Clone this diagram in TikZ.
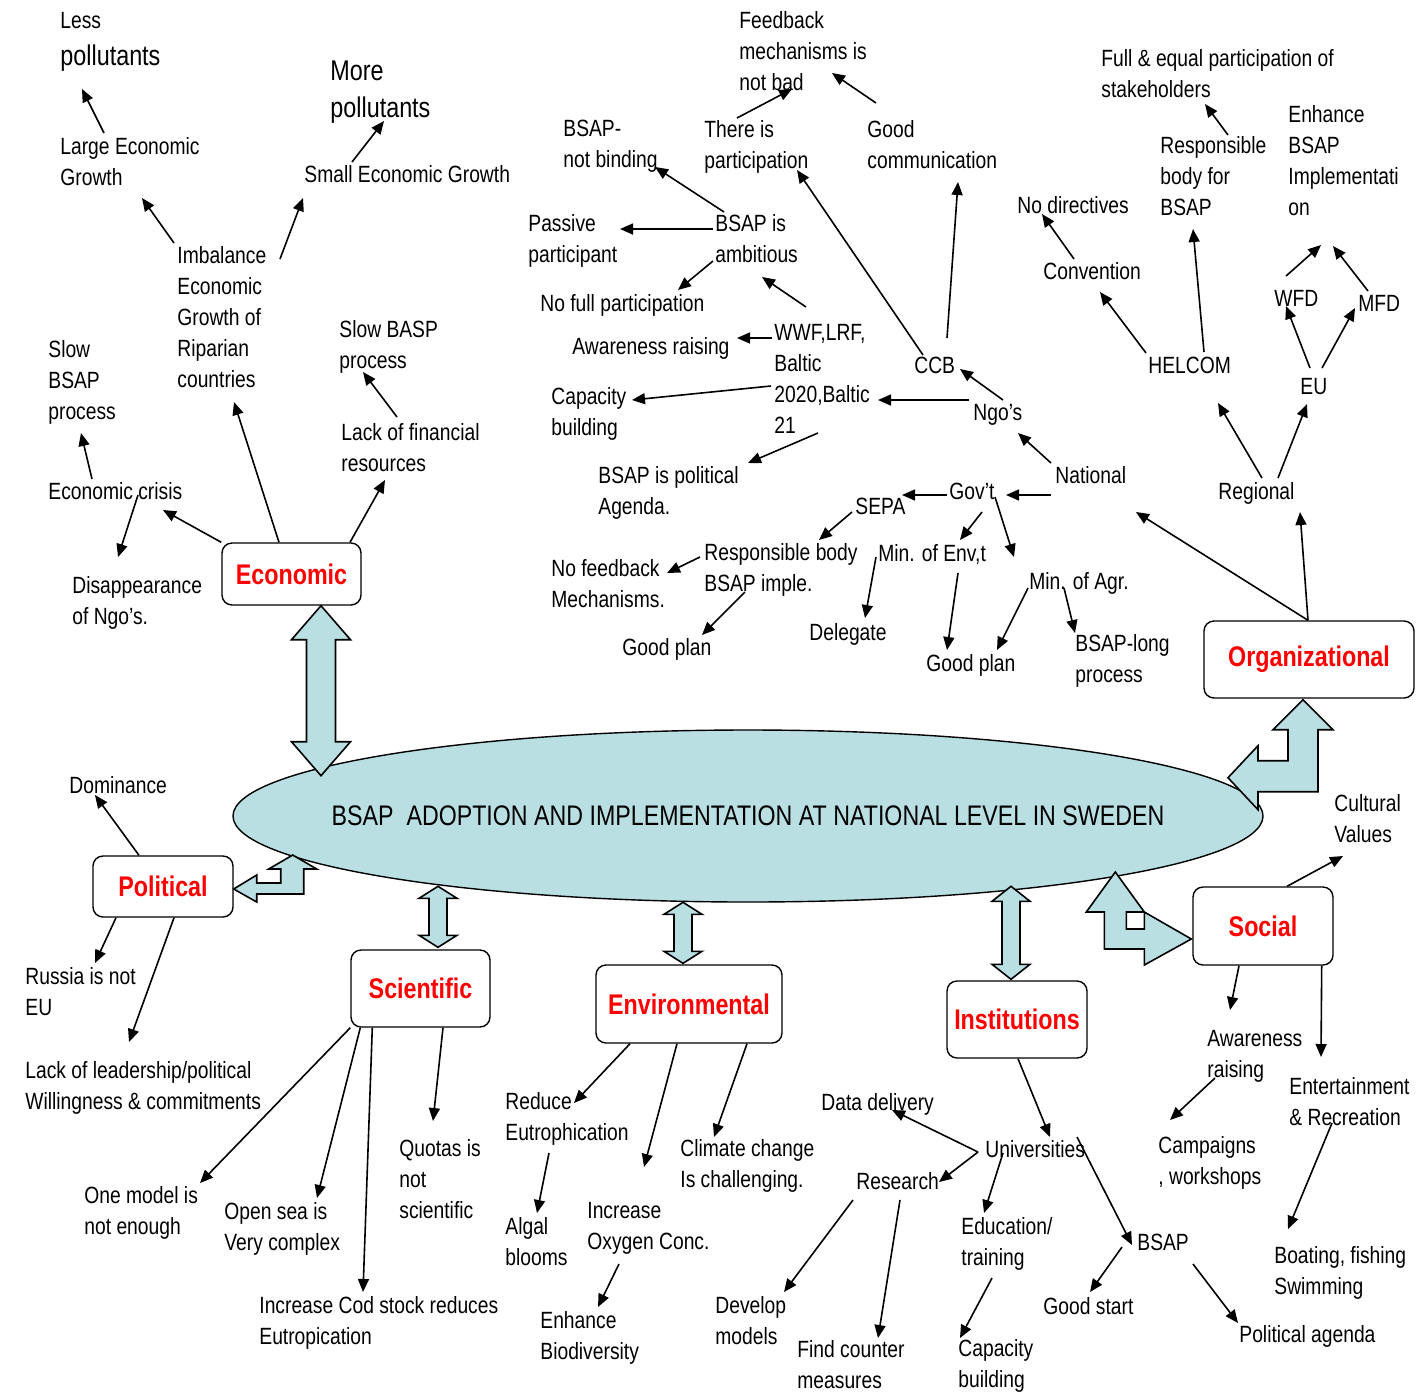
\documentclass[tikz,border=0pt]{standalone}
\usepackage{fontspec}
\setmainfont{Liberation Sans}[FakeStretch=0.82]
\usepackage{tikz}
\usetikzlibrary{positioning,arrows.meta,shapes.geometric}
\definecolor{sea}{RGB}{185,223,227}

\begin{document}
\begin{tikzpicture}[x=0.5pt,y=-0.5pt,font={\fontsize{11.75}{15.5}\selectfont},
  >={Triangle[length=6.5pt,width=5.5pt]},
  lbl/.style={anchor=north west,inner sep=0pt,align=left,execute at begin node=\strut},
  mlbl/.style={lbl,inner ysep=2pt},
  bigtxt/.style={font={\fontsize{14.25}{18.5}\selectfont}},
  catbox/.style={draw,rounded corners=5pt,fill=white,line width=0.7pt,text=red,inner sep=0pt,
    font={\fontsize{14.2}{17}\selectfont\bfseries}},
  arr/.style={->,line width=0.8pt},
  blk/.style={draw,fill=sea,line width=0.8pt}]
  \useasboundingbox (0,0) rectangle (1423,1393);

  % centre
  \node[ellipse,draw,fill=sea,line width=0.7pt,minimum width=515pt,minimum height=86pt,inner sep=0pt]
    (bsap) at (748,816) {};
  \node[font={\fontsize{14.15}{16}\selectfont}] (bsaptext) at (bsap.center)
    {BSAP\ \ ADOPTION AND IMPLEMENTATION AT NATIONAL LEVEL IN SWEDEN};

  % categories
  \node[catbox,minimum width=69.5pt,minimum height=31pt] (econ) at (291.5,574) {Economic};
  \node[catbox,minimum width=105pt,minimum height=38.5pt] (org) at (1309,659.5) {Organizational};
  \node[catbox,minimum width=70pt,minimum height=30.5pt] (pol) at (163,886.5) {Political};
  \node[catbox,minimum width=69.5pt,minimum height=38.5pt] (sci) at (420.5,988.5) {Scientific};
  \node[catbox,minimum width=93pt,minimum height=39pt] (env) at (689,1004) {Environmental};
  \node[catbox,minimum width=70pt,minimum height=38.5pt] (inst) at (1017,1019.5) {Institutions};
  \node[catbox,minimum width=70pt,minimum height=39pt] (soc) at (1263,926) {Social};

  % block arrows to the centre
  \draw[blk] ([shift={(29.5,0)}]econ.south) -- ++(29.5,34) -- ++(-15,0) -- ++(0,102) -- ++(15,0)
    -- ++(-29.5,34) -- ++(-29.5,-34) -- ++(15,0) -- ++(0,-102) -- ++(-15,0) -- cycle;
  \draw[blk] ([shift={(17.5,-2)}]sci.north) -- ++(19,-12) -- ++(-10,0) -- ++(0,-37) -- ++(10,0)
    -- ++(-19,-12) -- ++(-19,12) -- ++(10,0) -- ++(0,37) -- ++(-10,0) -- cycle;
  \draw[blk] ([shift={(-6,-1)}]env.north) -- ++(19,-12) -- ++(-10,0) -- ++(0,-37) -- ++(10,0)
    -- ++(-19,-12) -- ++(-19,12) -- ++(10,0) -- ++(0,37) -- ++(-10,0) -- cycle;
  \draw[blk] ([shift={(-6,-1)}]inst.north) -- ++(19,-15) -- ++(-10,0) -- ++(0,-63) -- ++(10,0)
    -- ++(-19,-15) -- ++(-19,15) -- ++(10,0) -- ++(0,63) -- ++(-10,0) -- cycle;
  \draw[blk] ([shift={(0,2.5)}]pol.east) -- ++(23,-14) -- ++(0,8) -- ++(24,0) -- ++(0,-14) -- ++(-12,0)
    -- ++(24,-14) -- ++(24,14) -- ++(-13,0) -- ++(0,25) -- ++(-47,0) -- ++(0,8) -- cycle;
  \draw[blk] ([shift={(-6,1)}]org.south) -- ++(30,30) -- ++(-15,0) -- ++(0,62) -- ++(-60,0) -- ++(0,18)
    -- ++(-30,-32) -- ++(30,-32) -- ++(0,15) -- ++(30,0) -- ++(0,-31) -- ++(-15,0) -- cycle;
  \draw[blk,even odd rule] ([shift={(-1,13)}]soc.west) -- ++(-47,26) -- ++(0,-16) -- ++(-40,0) -- ++(0,-37)
    -- ++(-18,0) -- ++(29,-40) -- ++(29,40) -- ++(-18,0) -- ++(0,17) -- ++(18,0) -- ++(0,-17) -- cycle;

  % economic
  \node[lbl,inner ysep=2.5pt] (lesspol) at (60,7) {Less\\[3pt]{\fontsize{14.25}{18.5}\selectfont pollutants}};
  \node[mlbl] (largegr) at (60,133) {Large Economic\\Growth};
  \node[lbl,bigtxt,inner ysep=3pt] (morepol) at (330,54) {More\\pollutants};
  \node[lbl] (smallgr) at (304,160) {Small Economic Growth};
  \node[mlbl] (imbal) at (177,242) {Imbalance\\Economic\\Growth of\\Riparian\\countries};
  \node[mlbl] (slowbasp) at (339,316) {Slow BASP\\process};
  \node[mlbl] (lackfin) at (341,419) {Lack of financial\\resources};
  \node[mlbl] (slowbsap) at (48,336) {Slow\\BSAP\\process};
  \node[lbl] (crisis) at (48,477) {Economic crisis};
  \node[mlbl] (disapp) at (72,572) {Disappearance\\of Ngo’s.};
  \draw[arr] ([shift={(44,0)}]largegr.north west) -- ([shift={(22,82)}]lesspol.north west);
  \draw[arr] ([shift={(48,2)}]smallgr.north west) -- ([shift={(54,67)}]morepol.north west);
  \draw[arr] ([shift={(-3,1)}]imbal.north west) -- ([shift={(82,65)}]largegr.north west);
  \draw[arr] ([shift={(103,17)}]imbal.north west) -- ([shift={(-1,38)}]smallgr.north west);
  \draw[arr] ([shift={(-12.5,0)}]econ.north) -- ([shift={(57,160)}]imbal.north west);
  \draw[arr] ([shift={(58.5,0)}]econ.north) -- ([shift={(44,61)}]lackfin.north west);
  \draw[arr] ([shift={(56,-2)}]lackfin.north west) -- ([shift={(24,56)}]slowbasp.north west);
  \draw[arr] (econ.north west) -- ([shift={(115,33)}]crisis.north west);
  \draw[arr] ([shift={(44,2)}]crisis.north west) -- ([shift={(33,97)}]slowbsap.north west);
  \draw[arr] ([shift={(90,18)}]crisis.north west) -- ([shift={(46,-15)}]disapp.north west);

  % political
  \node[lbl] (domin) at (69,771) {Dominance};
  \node[mlbl] (russia) at (25,963) {Russia is not\\EU};
  \node[mlbl] (lacklead) at (25,1057) {Lack of leadership/political\\Willingness \& commitments};
  \draw[arr] ([shift={(-24,0)}]pol.north) -- ([shift={(26,24)}]domin.north west);
  \draw[arr] ([shift={(-47,0)}]pol.south) -- ([shift={(70,0)}]russia.north west);
  \draw[arr] ([shift={(11,0)}]pol.south) -- ([shift={(104,-15)}]lacklead.north west);

  % scientific
  \node[mlbl] (quotas) at (399,1135) {Quotas is\\not\\scientific};
  \node[mlbl] (onemodel) at (84,1182) {One model is\\not enough};
  \node[mlbl] (opensea) at (224,1198) {Open sea is\\Very complex};
  \node[mlbl] (codstock) at (259,1292) {Increase Cod stock reduces\\Eutropication};
  \draw[arr] ([shift={(22.5,0)}]sci.south) -- ([shift={(34,-14)}]quotas.north west);
  \draw[arr] (sci.south west) -- ([shift={(116,1)}]onemodel.north west);
  \draw[arr] ([shift={(10,0)}]sci.south west) -- ([shift={(93,0)}]opensea.north west);
  \draw[arr] ([shift={(22,0)}]sci.south west) -- ([shift={(104,0)}]codstock.north west);

  % environmental
  \node[mlbl] (reduce) at (505,1088) {Reduce\\Eutrophication};
  \node[mlbl] (algal) at (505,1213) {Algal\\blooms};
  \node[mlbl] (oxygen) at (587,1198) {Increase\\Oxygen Conc.};
  \node[mlbl] (biodiv) at (540,1307) {Enhance\\Biodiversity};
  \node[mlbl] (climate) at (680,1135) {Climate change\\Is challenging.};
  \draw[arr] ([shift={(-59,0)}]env.south) -- ([shift={(69,15)}]reduce.north west);
  \draw[arr] ([shift={(-12,0)}]env.south) -- ([shift={(57,-31)}]oxygen.north west);
  \draw[arr] ([shift={(58,0)}]env.south) -- ([shift={(34,2)}]climate.north west);
  \draw[arr] ([shift={(44,65)}]reduce.north west) -- ([shift={(32,0)}]algal.north west);
  \draw[arr] ([shift={(32,66)}]oxygen.north west) -- ([shift={(58,0)}]biodiv.north west);

  % institutions
  \node[lbl] (datadel) at (821,1088) {Data delivery};
  \node[lbl] (univ) at (985,1135) {Universities};
  \node[lbl] (research) at (856,1167) {Research};
  \node[mlbl] (educ) at (961,1213) {Education/\\training};
  \node[mlbl] (develop) at (715,1292) {Develop\\models};
  \node[mlbl] (findcount) at (797,1336) {Find counter\\measures};
  \node[mlbl] (capbuild2) at (958,1335) {Capacity\\building};
  \node[lbl] (bsapi) at (1137,1228) {BSAP};
  \node[lbl] (goodstart) at (1043,1292) {Good start};
  \node[lbl] (polagenda) at (1239,1320) {Political agenda};
  \draw[arr] ([shift={(1,0)}]inst.south) -- ([shift={(65,2)}]univ.north west);
  \draw[arr] ([shift={(-7,17)}]univ.north west) -- ([shift={(71,22)}]datadel.north west);
  \draw[arr] ([shift={(-7,17)}]univ.north west) -- ([shift={(83,15)}]research.north west);
  \draw[arr] ([shift={(18,18)}]univ.north west) -- ([shift={(23,0)}]educ.north west);
  \draw[arr] ([shift={(-3,33)}]research.north west) -- ([shift={(69,0)}]develop.north west);
  \draw[arr] ([shift={(44,33)}]research.north west) -- ([shift={(81,2)}]findcount.north west);
  \draw[arr] ([shift={(31,65)}]educ.north west) -- ([shift={(2,3)}]capbuild2.north west);
  \draw[arr] ([shift={(92,2)}]univ.north west) -- ([shift={(-5,17)}]bsapi.north west);
  \draw[arr] ([shift={(-15,19)}]bsapi.north west) -- ([shift={(47,0)}]goodstart.north west);
  \draw[arr] ([shift={(56,36)}]bsapi.north west) -- ([shift={(-1,3)}]polagenda.north west);

  % social
  \node[mlbl] (cultural) at (1334,790) {Cultural\\Values};
  \node[mlbl] (aware2) at (1207,1026) {Awareness\\raising};
  \node[mlbl] (entertain) at (1289,1073) {Entertainment\\\& Recreation};
  \node[mlbl] (campaign) at (1158,1132) {Campaigns\\, workshops};
  \node[mlbl] (boating) at (1274,1242) {Boating, fishing\\Swimming};
  \draw[arr] ([shift={(24,0)}]soc.north) -- ([shift={(9,66)}]cultural.north west);
  \draw[arr] ([shift={(-24,0)}]soc.south) -- ([shift={(23,-16)}]aware2.north west);
  \draw[arr] ([shift={(-12,0)}]soc.south east) -- ([shift={(32,-16)}]entertain.north west);
  \draw[arr] ([shift={(8,52)}]aware2.north west) -- ([shift={(12,-12)}]campaign.north west);
  \draw[arr] ([shift={(43,50)}]entertain.north west) -- ([shift={(14,-13)}]boating.north west);

  % organizational
  \node[mlbl] (feedback) at (739,7) {Feedback\\mechanisms is\\not bad};
  \node[mlbl] (notbind) at (563,116) {BSAP-\\not binding};
  \node[mlbl] (thereis) at (704,116) {There is\\participation};
  \node[mlbl] (goodcomm) at (867,116) {Good\\communication};
  \node[mlbl] (passive) at (528,210) {Passive\\participant};
  \node[mlbl] (ambit) at (715,210) {BSAP is\\ambitious};
  \node[lbl] (nofull) at (540,289) {No full participation};
  \node[lbl] (aware1) at (572,332) {Awareness raising};
  \node[mlbl] (wwf) at (774,320) {WWF,LRF,\\Baltic\\2020,Baltic\\21};
  \node[mlbl] (capbuild1) at (551,383) {Capacity\\building};
  \node[mlbl] (polagend1) at (598,462) {BSAP is political\\Agenda.};
  \node[lbl] (ccb) at (914,351) {CCB};
  \node[lbl] (ngos) at (973,398) {Ngo’s};
  \node[lbl] (national) at (1055,461) {National};
  \node[lbl] (govt) at (949,477) {Gov’t};
  \node[lbl] (sepa) at (855,492) {SEPA};
  \node[mlbl] (respbody) at (704,539) {Responsible body\\BSAP imple.};
  \node[mlbl] (nofeed) at (551,555) {No feedback\\Mechanisms.};
  \node[lbl] (minenv) at (878,539) {Min. of Env,t};
  \node[lbl] (minagr) at (1029,567) {Min. of Agr.};
  \node[lbl] (goodplan1) at (622,633) {Good plan};
  \node[lbl] (delegate) at (809,618) {Delegate};
  \node[lbl] (goodplan2) at (926,649) {Good plan};
  \node[mlbl] (longproc) at (1075,630) {BSAP-long\\process};
  \node[lbl] (nodirect) at (1017,191) {No directives};
  \node[mlbl] (fullequal) at (1101,45) {Full \& equal participation of\\stakeholders};
  \node[mlbl] (respbsap) at (1160,132) {Responsible\\body for\\BSAP};
  \node[mlbl] (enhance) at (1288,101) {Enhance\\BSAP\\Implementati\\on};
  \node[lbl] (convent) at (1043,257) {Convention};
  \node[lbl] (wfd) at (1274,284) {WFD};
  \node[lbl] (mfd) at (1358,289) {MFD};
  \node[lbl] (helcom) at (1148,351) {HELCOM};
  \node[lbl] (eu) at (1300,372) {EU};
  \node[lbl] (regional) at (1218,477) {Regional};
  \draw[arr] ([shift={(33,2)}]thereis.north west) -- ([shift={(53,82)}]feedback.north west);
  \draw[arr] ([shift={(9,-13)}]goodcomm.north west) -- ([shift={(93,66)}]feedback.north west);
  \draw[arr] ([shift={(9,2)}]ambit.north west) -- ([shift={(92,51)}]notbind.north west);
  \draw[arr] ([shift={(-2,19)}]ambit.north west) -- ([shift={(92,19)}]passive.north west);
  \draw[arr] ([shift={(-2,51)}]ambit.north west) -- ([shift={(138,1)}]nofull.north west);
  \draw[arr] ([shift={(9,4)}]ccb.north west) -- ([shift={(93,54)}]thereis.north west);
  \draw[arr] ([shift={(33,-13)}]ccb.north west) -- ([shift={(91,66)}]goodcomm.north west);
  \draw[arr] ([shift={(32,-13)}]wwf.north west) -- ([shift={(47,67)}]ambit.north west);
  \draw[arr] ([shift={(-2,18)}]wwf.north west) -- ([shift={(165,6)}]aware1.north west);
  \draw[arr] ([shift={(-3,66)}]wwf.north west) -- ([shift={(81,17)}]capbuild1.north west);
  \draw[arr] ([shift={(44,113)}]wwf.north west) -- ([shift={(150,1)}]polagend1.north west);
  \draw[arr] ([shift={(-4,2)}]ngos.north west) -- ([shift={(104,80)}]wwf.north west);
  \draw[arr] ([shift={(30,2)}]ngos.north west) -- ([shift={(46,18)}]ccb.north west);
  \draw[arr] ([shift={(-4,2)}]national.north west) -- ([shift={(45,35)}]ngos.north west);
  \draw[arr] ([shift={(-4,34)}]national.north west) -- ([shift={(57,18)}]govt.north west);
  \draw[arr] ([shift={(-2,18)}]govt.north west) -- ([shift={(47,3)}]sepa.north west);
  \draw[arr] ([shift={(-3,20)}]sepa.north west) -- ([shift={(115,1)}]respbody.north west);
  \draw[arr] ([shift={(33,35)}]govt.north west) -- ([shift={(82,1)}]minenv.north west);
  \draw[arr] ([shift={(46,20)}]govt.north west) -- ([shift={(-15,-10)}]minagr.north west);
  \draw[arr] ([shift={(-4,18)}]respbody.north west) -- ([shift={(116,18)}]nofeed.north west);
  \draw[arr] ([shift={(41,53)}]respbody.north west) -- ([shift={(80,2)}]goodplan1.north west);
  \draw[arr] ([shift={(-2,18)}]minenv.north west) -- ([shift={(56,0)}]delegate.north west);
  \draw[arr] ([shift={(80,34)}]minenv.north west) -- ([shift={(21,1)}]goodplan2.north west);
  \draw[arr] ([shift={(-1,21)}]minagr.north west) -- ([shift={(71,1)}]goodplan2.north west);
  \draw[arr] ([shift={(35,21)}]minagr.north west) -- ([shift={(0,3)}]longproc.north west);
  \draw[arr] ([shift={(-1,0)}]org.north) -- ([shift={(81,51)}]national.north west);
  \draw[arr] ([shift={(-1,0)}]org.north) -- ([shift={(82,35)}]regional.north west);
  \draw[arr] ([shift={(44,1)}]regional.north west) -- ([shift={(70,52)}]helcom.north west);
  \draw[arr] ([shift={(60,1)}]regional.north west) -- ([shift={(7,32)}]eu.north west);
  \draw[arr] ([shift={(10,-4)}]eu.north west) -- ([shift={(12,22)}]wfd.north west);
  \draw[arr] ([shift={(22,-4)}]eu.north west) -- ([shift={(-3,19)}]mfd.north west);
  \draw[arr] ([shift={(12,-8)}]wfd.north west) -- ([shift={(33,144)}]enhance.north west);
  \draw[arr] ([shift={(10,2)}]mfd.north west) -- ([shift={(45,145)}]enhance.north west);
  \draw[arr] ([shift={(-2,2)}]helcom.north west) -- ([shift={(57,35)}]convent.north west);
  \draw[arr] ([shift={(56,1)}]helcom.north west) -- ([shift={(33,97)}]respbsap.north west);
  \draw[arr] ([shift={(31,2)}]convent.north west) -- ([shift={(25,23)}]nodirect.north west);
  \draw[arr] ([shift={(68,3)}]respbsap.north west) -- ([shift={(104,59)}]fullequal.north west);
\end{tikzpicture}
\end{document}
